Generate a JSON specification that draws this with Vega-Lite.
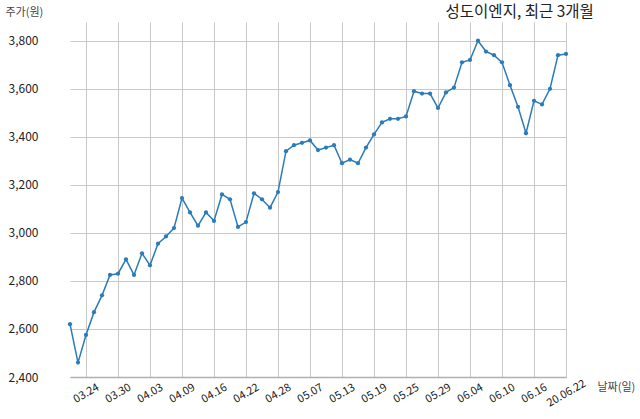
{
  "$schema": "https://vega.github.io/schema/vega-lite/v6.json",
  "width": 551,
  "height": 355,
  "autosize": {"type": "none"},
  "padding": {"left": 42, "top": 22, "right": 47, "bottom": 42},
  "background": "white",
  "config": {
    "font": "Noto Sans CJK KR",
    "view": {"stroke": null}
  },
  "title": {
    "text": "성도이엔지, 최근 3개월",
    "anchor": "end",
    "orient": "top",
    "offset": 1,
    "dy": 15,
    "dx": -41,
    "fontSize": 15.5,
    "fontWeight": "normal",
    "color": "#222222",
    "font": "Noto Sans CJK KR"
  },
  "data": {
    "values": [
      {"date": "2020-03-20", "price": 2620},
      {"date": "2020-03-23", "price": 2460},
      {"date": "2020-03-24", "price": 2575},
      {"date": "2020-03-25", "price": 2670},
      {"date": "2020-03-26", "price": 2740},
      {"date": "2020-03-27", "price": 2825},
      {"date": "2020-03-30", "price": 2830},
      {"date": "2020-03-31", "price": 2890},
      {"date": "2020-04-01", "price": 2825},
      {"date": "2020-04-02", "price": 2915},
      {"date": "2020-04-03", "price": 2865},
      {"date": "2020-04-06", "price": 2955},
      {"date": "2020-04-07", "price": 2985},
      {"date": "2020-04-08", "price": 3020},
      {"date": "2020-04-09", "price": 3145},
      {"date": "2020-04-10", "price": 3085},
      {"date": "2020-04-13", "price": 3030},
      {"date": "2020-04-14", "price": 3085},
      {"date": "2020-04-16", "price": 3050},
      {"date": "2020-04-17", "price": 3160},
      {"date": "2020-04-20", "price": 3140},
      {"date": "2020-04-21", "price": 3025},
      {"date": "2020-04-22", "price": 3045},
      {"date": "2020-04-23", "price": 3165},
      {"date": "2020-04-24", "price": 3140},
      {"date": "2020-04-27", "price": 3105},
      {"date": "2020-04-28", "price": 3170},
      {"date": "2020-04-29", "price": 3340},
      {"date": "2020-05-04", "price": 3365},
      {"date": "2020-05-06", "price": 3375},
      {"date": "2020-05-07", "price": 3385},
      {"date": "2020-05-08", "price": 3345},
      {"date": "2020-05-11", "price": 3355},
      {"date": "2020-05-12", "price": 3365},
      {"date": "2020-05-13", "price": 3290},
      {"date": "2020-05-14", "price": 3305},
      {"date": "2020-05-15", "price": 3290},
      {"date": "2020-05-18", "price": 3355},
      {"date": "2020-05-19", "price": 3410},
      {"date": "2020-05-20", "price": 3460},
      {"date": "2020-05-21", "price": 3475},
      {"date": "2020-05-22", "price": 3475},
      {"date": "2020-05-25", "price": 3485},
      {"date": "2020-05-26", "price": 3590},
      {"date": "2020-05-27", "price": 3580},
      {"date": "2020-05-28", "price": 3580},
      {"date": "2020-05-29", "price": 3520},
      {"date": "2020-06-01", "price": 3585},
      {"date": "2020-06-02", "price": 3605},
      {"date": "2020-06-03", "price": 3710},
      {"date": "2020-06-04", "price": 3720},
      {"date": "2020-06-05", "price": 3800},
      {"date": "2020-06-08", "price": 3755},
      {"date": "2020-06-09", "price": 3740},
      {"date": "2020-06-10", "price": 3710},
      {"date": "2020-06-11", "price": 3615},
      {"date": "2020-06-12", "price": 3525},
      {"date": "2020-06-15", "price": 3415},
      {"date": "2020-06-16", "price": 3550},
      {"date": "2020-06-17", "price": 3535},
      {"date": "2020-06-18", "price": 3600},
      {"date": "2020-06-19", "price": 3740},
      {"date": "2020-06-22", "price": 3745}
    ]
  },
  "mark": {
    "type": "line",
    "color": "#2b7bb9",
    "strokeWidth": 1.5,
    "point": {"filled": true, "size": 18, "color": "#2b7bb9"}
  },
  "encoding": {
    "x": {
      "field": "date",
      "type": "ordinal",
      "sort": null,
      "scale": {"type": "point", "padding": 0, "range": [28, 524]},
      "axis": {
        "values": ["2020-03-24", "2020-03-30", "2020-04-03", "2020-04-09", "2020-04-16", "2020-04-22", "2020-04-28", "2020-05-07", "2020-05-13", "2020-05-19", "2020-05-25", "2020-05-29", "2020-06-04", "2020-06-10", "2020-06-16", "2020-06-22"],
        "labelExpr": "datum.value == '2020-06-22' ? '20.06.22' : slice(datum.value, 5, 7) + '.' + slice(datum.value, 8, 10)",
        "labelAngle": -30,
        "labelAlign": "center",
        "labelBaseline": "top",
        "labelPadding": 11,
        "labelOffset": -3,
        "labelFontSize": 11,
        "labelColor": "#222222",
        "labelFont": "Noto Sans CJK KR",
        "ticks": false,
        "grid": true,
        "gridColor": "#c8c8c8",
        "gridWidth": 1,
        "domain": true,
        "domainColor": "#b0b0b0",
        "domainWidth": 1.5,
        "title": "날짜(일)",
        "titleFontSize": 11,
        "titleFontWeight": "normal",
        "titleColor": "#444444",
        "titleFont": "Noto Sans CJK KR",
        "titleAlign": "left",
        "titleBaseline": "middle",
        "titleX": 555,
        "titleY": 10
      }
    },
    "y": {
      "field": "price",
      "type": "quantitative",
      "scale": {"domain": [2400, 3878], "nice": false, "zero": false},
      "axis": {
        "values": [2400, 2600, 2800, 3000, 3200, 3400, 3600, 3800],
        "format": ",.0f",
        "labelFontSize": 12,
        "labelColor": "#222222",
        "labelFont": "Noto Sans CJK KR",
        "labelPadding": 4,
        "ticks": false,
        "domain": false,
        "grid": true,
        "gridColor": "#c8c8c8",
        "gridWidth": 1,
        "title": "주가(원)",
        "titleAngle": 0,
        "titleFontSize": 11,
        "titleFontWeight": "normal",
        "titleColor": "#444444",
        "titleFont": "Noto Sans CJK KR",
        "titleAlign": "left",
        "titleBaseline": "middle",
        "titleX": -37,
        "titleY": -10
      }
    }
  }
}
